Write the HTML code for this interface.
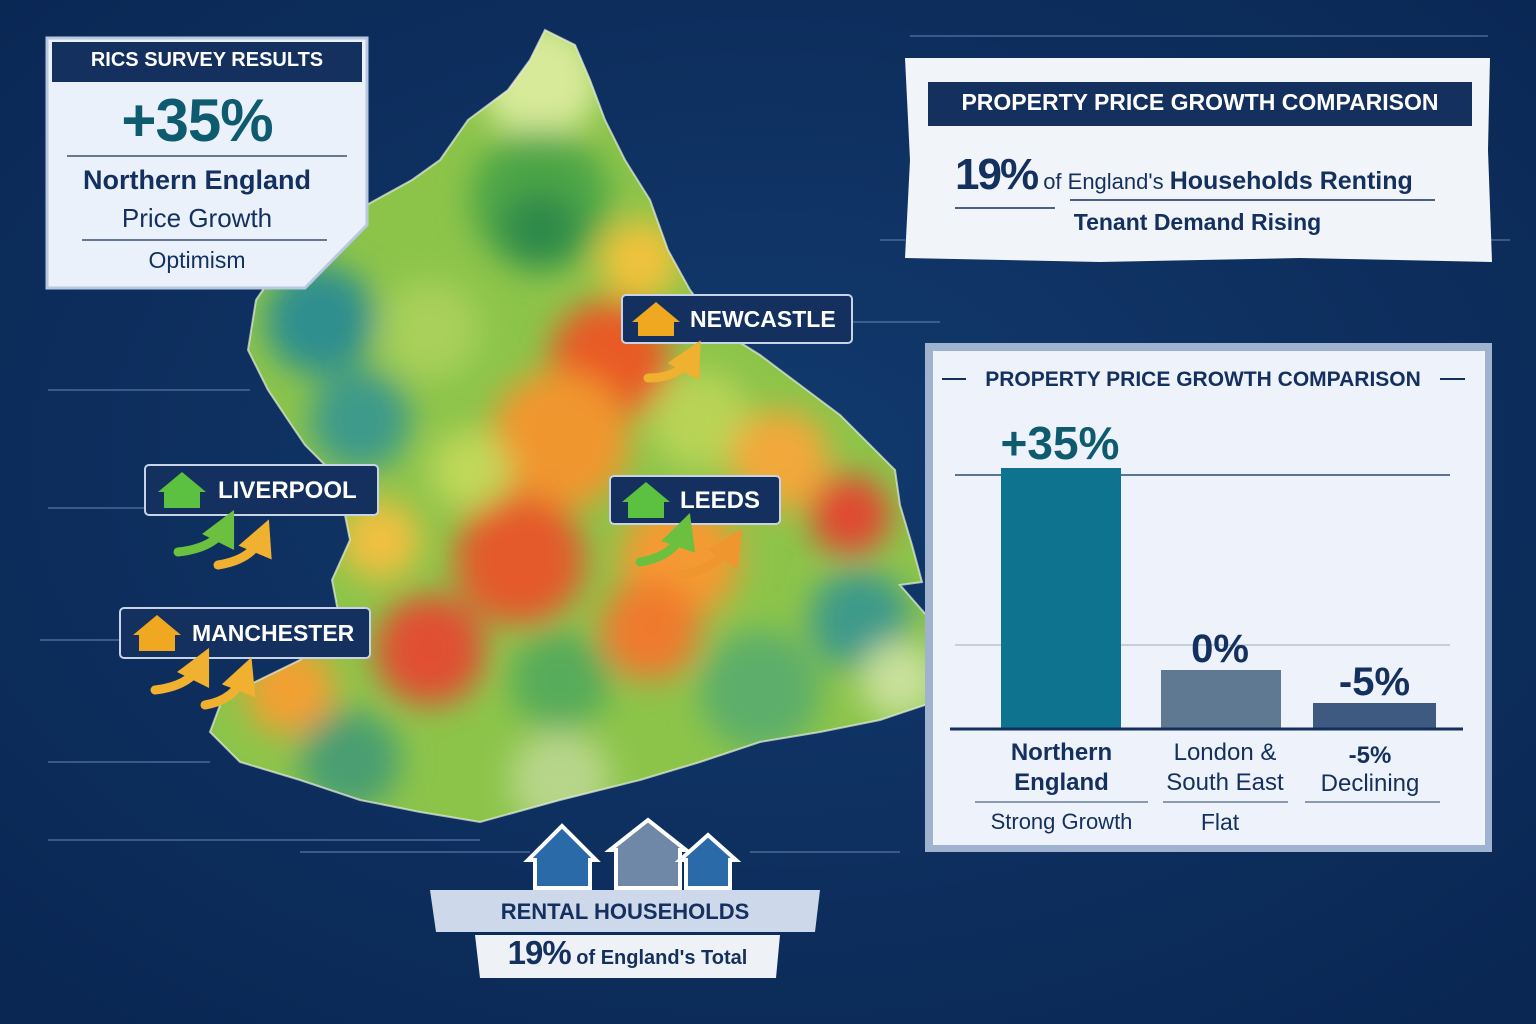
<!DOCTYPE html>
<html><head><meta charset="utf-8">
<style>
html,body{margin:0;padding:0;}
body{width:1536px;height:1024px;overflow:hidden;background:#0c2c5c;font-family:"Liberation Sans",sans-serif;position:relative;}
.abs{position:absolute;white-space:nowrap;}
</style></head>
<body>
<svg class="abs" style="left:0;top:0" width="1536" height="1024" viewBox="0 0 1536 1024">
<defs>
<radialGradient id="bg" cx="50%" cy="45%" r="70%"><stop offset="0" stop-color="#123a6e"/><stop offset="1" stop-color="#0a2753"/></radialGradient>
<filter id="bl" x="-50%" y="-50%" width="200%" height="200%"><feGaussianBlur stdDeviation="16"/></filter>
<marker id="ah" markerWidth="4" markerHeight="4" refX="2" refY="2" orient="auto"><path d="M0,0 L4,2 L0,4 Z" fill="context-stroke"/></marker>
<clipPath id="mapc"><path id="mp" d="M545,30 L575,45 L590,80 L605,120 L625,160 L650,200 L668,250 L690,290 L720,330 L760,355 L800,385 L840,415 L870,445 L895,470 L900,505 L912,545 L922,582 L900,585 L935,625 L962,680 L940,700 L880,720 L820,732 L760,742 L700,762 L640,780 L560,800 L480,822 L420,812 L360,800 L300,780 L240,762 L210,732 L222,700 L255,682 L300,660 L340,622 L332,580 L350,540 L342,500 L330,470 L305,445 L288,420 L268,390 L248,350 L256,300 L282,262 L322,232 L372,202 L412,180 L440,160 L468,120 L508,90 L530,60 Z"/></clipPath>
</defs>
<rect width="1536" height="1024" fill="url(#bg)"/>
<g stroke="#5a78a8" stroke-width="2" opacity="0.6">
<line x1="48" y1="390" x2="250" y2="390"/><line x1="48" y1="508" x2="150" y2="508"/><line x1="40" y1="640" x2="120" y2="640"/><line x1="48" y1="762" x2="210" y2="762"/><line x1="48" y1="840" x2="480" y2="840"/><line x1="300" y1="852" x2="530" y2="852"/><line x1="750" y1="852" x2="900" y2="852"/><line x1="850" y1="322" x2="940" y2="322"/><line x1="880" y1="240" x2="905" y2="240"/><line x1="1490" y1="240" x2="1510" y2="240"/><line x1="910" y1="36" x2="1488" y2="36"/>
</g>
<g clip-path="url(#mapc)">
<rect x="200" y="20" width="780" height="820" fill="#8cc44a"/>
<g filter="url(#bl)">
<circle cx="540" cy="80" r="60" fill="#d7ea9a"/>
<circle cx="540" cy="200" r="70" fill="#4ea646"/>
<circle cx="540" cy="230" r="40" fill="#2e8a4a"/>
<circle cx="320" cy="320" r="55" fill="#2f8f8e"/>
<circle cx="360" cy="420" r="50" fill="#3c9a8a"/>
<circle cx="430" cy="330" r="50" fill="#a8d05a"/>
<circle cx="640" cy="260" r="40" fill="#f0c23a"/>
<circle cx="610" cy="360" r="60" fill="#e85a28"/>
<circle cx="560" cy="440" r="70" fill="#f0962e"/>
<circle cx="700" cy="420" r="50" fill="#b8d456"/>
<circle cx="780" cy="460" r="50" fill="#f2a83a"/>
<circle cx="850" cy="515" r="40" fill="#e04830"/>
<circle cx="520" cy="560" r="65" fill="#e45a2a"/>
<circle cx="680" cy="560" r="60" fill="#f59a30"/>
<circle cx="650" cy="630" r="50" fill="#ef7a2e"/>
<circle cx="430" cy="650" r="55" fill="#e05030"/>
<circle cx="290" cy="690" r="45" fill="#f2a030"/>
<circle cx="380" cy="540" r="40" fill="#f0c040"/>
<circle cx="560" cy="680" r="50" fill="#56ab5a"/>
<circle cx="350" cy="760" r="50" fill="#4a9e72"/>
<circle cx="560" cy="780" r="50" fill="#b8d68a"/>
<circle cx="760" cy="690" r="60" fill="#5cae6a"/>
<circle cx="860" cy="620" r="50" fill="#3d9a8a"/>
<circle cx="900" cy="680" r="40" fill="#c8e09a"/>
<circle cx="470" cy="470" r="40" fill="#c0d85a"/>
</g>
</g>
<use href="#mp" fill="none" stroke="#e8f0e0" stroke-width="2" opacity="0.7"/>
<path d="M47,38 L367,38 L367,225 L305,288 L47,288 Z" fill="#eaf1fb" stroke="#b8c8e0" stroke-width="3"/>
<rect x="52" y="42" width="310" height="40" fill="#14305e"/>
<line x1="67" y1="156" x2="347" y2="156" stroke="#3a5070" stroke-width="1.5"/>
<line x1="82" y1="240" x2="327" y2="240" stroke="#3a5070" stroke-width="1.5"/>
<path d="M905,58 L1490,58 L1488,150 L1492,262 L1300,258 L1100,262 L905,258 L910,160 Z" fill="#f1f4f8"/>
<rect x="928" y="82" width="544" height="44" fill="#14305e"/>
<line x1="955" y1="208" x2="1055" y2="208" stroke="#14305e" stroke-width="1.5"/>
<line x1="1070" y1="200" x2="1435" y2="200" stroke="#14305e" stroke-width="1.5"/>
<rect x="925" y="343" width="567" height="509" fill="#9fb2cf"/>
<rect x="933" y="351" width="552" height="494" fill="#edf2fb"/>
<line x1="942" y1="379" x2="966" y2="379" stroke="#14305e" stroke-width="2"/>
<line x1="1440" y1="379" x2="1465" y2="379" stroke="#14305e" stroke-width="2"/>
<line x1="955" y1="475" x2="1450" y2="475" stroke="#2a4a70" stroke-width="1.5"/>
<line x1="955" y1="645" x2="1450" y2="645" stroke="#9aaac0" stroke-width="1"/>
<rect x="1001" y="468" width="120" height="260" fill="#0d738e"/>
<rect x="1161" y="670" width="120" height="58" fill="#5e7991"/>
<rect x="1313" y="703" width="123" height="25" fill="#3e5a80"/>
<line x1="950" y1="729" x2="1463" y2="729" stroke="#14305e" stroke-width="3"/>
<line x1="975" y1="802" x2="1148" y2="802" stroke="#6a7d96" stroke-width="1.5"/>
<line x1="1163" y1="802" x2="1288" y2="802" stroke="#6a7d96" stroke-width="1.5"/>
<line x1="1305" y1="802" x2="1440" y2="802" stroke="#6a7d96" stroke-width="1.5"/>
<g>
<path d="M528,860 L562,826 L596,860 L590,860 L590,888 L535,888 L535,860 Z" fill="#2a6aa8" stroke="#fff" stroke-width="4"/>
<path d="M610,850 L648,820 L686,850 L680,850 L680,888 L616,888 L616,850 Z" fill="#7088a8" stroke="#fff" stroke-width="4"/>
<path d="M680,860 L708,835 L736,860 L730,860 L730,888 L686,888 L686,860 Z" fill="#2a6aa8" stroke="#fff" stroke-width="4"/>
<path d="M430,890 L820,890 L815,932 L436,932 Z" fill="#cdd9ea"/>
<path d="M475,935 L780,935 L776,978 L480,978 Z" fill="#eef2f7"/>
</g>
<g>
<rect x="622" y="295" width="230" height="48" rx="4" fill="#14305e" stroke="#c8d4e6" stroke-width="2"/>
<rect x="145" y="465" width="233" height="50" rx="4" fill="#14305e" stroke="#c8d4e6" stroke-width="2"/>
<rect x="610" y="476" width="170" height="48" rx="4" fill="#14305e" stroke="#c8d4e6" stroke-width="2"/>
<rect x="120" y="608" width="250" height="50" rx="4" fill="#14305e" stroke="#c8d4e6" stroke-width="2"/>
<g fill="#f0a820"><path d="M632,322 L656,302 L680,322 Z"/><rect x="638" y="320" width="36" height="16"/></g>
<g fill="#5cc040"><path d="M158,492 L182,472 L206,492 Z"/><rect x="164" y="490" width="36" height="18"/></g>
<g fill="#5cc040"><path d="M622,502 L646,482 L670,502 Z"/><rect x="628" y="500" width="36" height="18"/></g>
<g fill="#f0a820"><path d="M133,635 L157,615 L181,635 Z"/><rect x="139" y="633" width="36" height="18"/></g>
<g fill="none" stroke-width="9" stroke-linecap="round" marker-end="url(#ah)">
<path d="M648,378 Q680,378 692,356" stroke="#f0b030"/>
<path d="M178,552 Q215,548 226,526" stroke="#6cc040"/><path d="M218,565 Q252,560 262,536" stroke="#f0b030"/>
<path d="M640,562 Q675,556 684,530" stroke="#6cc040"/><path d="M680,575 Q715,570 732,544" stroke="#f0962e"/>
<path d="M155,690 Q190,686 201,664" stroke="#f0b030"/><path d="M205,705 Q235,700 245,674" stroke="#f0b030"/>
</g>
</g>
</svg>

<div class="abs" style="left:52px;top:49px;width:310px;text-align:center;color:#fff;font-weight:bold;font-size:20px;">RICS SURVEY RESULTS</div>
<div class="abs" style="left:47px;top:86px;width:300px;text-align:center;color:#0e5a6e;font-weight:bold;font-size:60px;letter-spacing:-1px;">+35%</div>
<div class="abs" style="left:47px;top:165px;width:300px;text-align:center;color:#14305e;font-weight:bold;font-size:27px;">Northern England</div>
<div class="abs" style="left:47px;top:203px;width:300px;text-align:center;color:#14305e;font-size:26px;">Price Growth</div>
<div class="abs" style="left:47px;top:247px;width:300px;text-align:center;color:#14305e;font-size:23px;">Optimism</div>

<div class="abs" style="left:928px;top:89px;width:544px;text-align:center;color:#fff;font-weight:bold;font-size:23px;">PROPERTY PRICE GROWTH COMPARISON</div>
<div class="abs" style="left:955px;top:150px;color:#14305e;"><span style="font-weight:bold;font-size:44px;letter-spacing:-2px;">19%</span><span style="font-size:22px;"> of England's </span><span style="font-size:25px;font-weight:bold;">Households Renting</span></div>
<div class="abs" style="left:1050px;top:209px;width:295px;text-align:center;color:#14305e;font-weight:bold;font-size:23px;">Tenant Demand Rising</div>

<div class="abs" style="left:966px;top:368px;width:474px;text-align:center;color:#14305e;font-weight:bold;font-size:21px;">PROPERTY PRICE GROWTH COMPARISON</div>
<div class="abs" style="left:985px;top:416px;width:150px;text-align:center;color:#0e5a6e;font-weight:bold;font-size:46px;">+35%</div>
<div class="abs" style="left:1160px;top:627px;width:120px;text-align:center;color:#14305e;font-weight:bold;font-size:40px;">0%</div>
<div class="abs" style="left:1313px;top:660px;width:123px;text-align:center;color:#14305e;font-weight:bold;font-size:40px;">-5%</div>
<div class="abs" style="left:975px;top:738px;width:173px;text-align:center;color:#14305e;font-weight:bold;font-size:24px;line-height:30px;">Northern<br>England</div>
<div class="abs" style="left:1160px;top:738px;width:130px;text-align:center;color:#14305e;font-size:24px;line-height:30px;">London &amp;<br>South East</div>
<div class="abs" style="left:1305px;top:742px;width:130px;text-align:center;color:#14305e;font-weight:bold;font-size:24px;line-height:28px;">-5%<br><span style="font-weight:normal">Declining</span></div>
<div class="abs" style="left:975px;top:809px;width:173px;text-align:center;color:#14305e;font-size:22px;">Strong Growth</div>
<div class="abs" style="left:1160px;top:809px;width:120px;text-align:center;color:#14305e;font-size:23px;">Flat</div>

<div class="abs" style="left:690px;top:306px;color:#fff;font-weight:bold;font-size:23px;">NEWCASTLE</div>
<div class="abs" style="left:218px;top:477px;color:#fff;font-weight:bold;font-size:24px;">LIVERPOOL</div>
<div class="abs" style="left:680px;top:487px;color:#fff;font-weight:bold;font-size:24px;">LEEDS</div>
<div class="abs" style="left:192px;top:620px;color:#fff;font-weight:bold;font-size:23px;">MANCHESTER</div>

<div class="abs" style="left:430px;top:899px;width:390px;text-align:center;color:#14305e;font-weight:bold;font-size:22px;">RENTAL HOUSEHOLDS</div>
<div class="abs" style="left:475px;top:934px;width:305px;text-align:center;color:#14305e;"><span style="font-weight:bold;font-size:33px;letter-spacing:-1px;">19%</span><span style="font-size:20px;font-weight:bold;"> of England's Total</span></div>
</body></html>
